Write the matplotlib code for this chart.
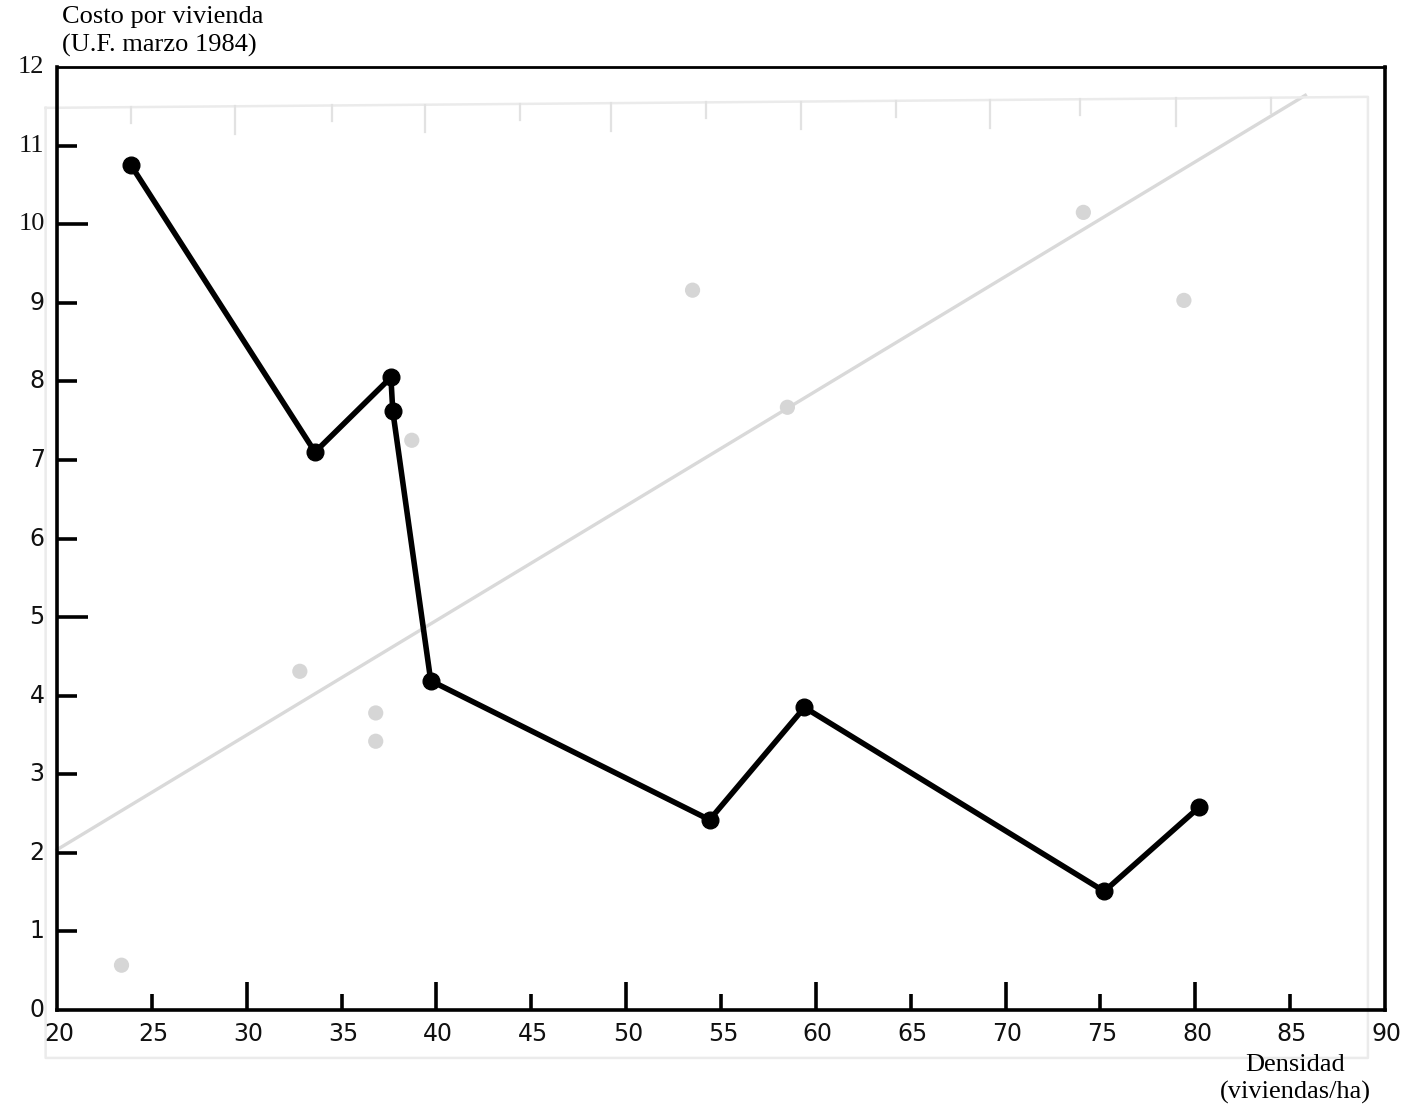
import matplotlib
matplotlib.use("Agg")
import matplotlib.pyplot as plt

# Cost per dwelling vs. density
densidad = [23.9, 33.6, 37.6, 37.7, 39.7, 54.4, 59.4, 75.2, 80.2]
costo = [10.75, 7.1, 8.05, 7.62, 4.19, 2.42, 3.85, 1.51, 2.58]

# faint show-through from the reverse page
fondo_x = [23.4, 32.8, 36.8, 36.8, 38.7, 53.5, 58.5, 74.1, 79.4]
fondo_y = [0.57, 4.31, 3.78, 3.42, 7.25, 9.16, 7.67, 10.15, 9.03]
fondo_recta_x = [20.0, 85.8]
fondo_recta_y = [2.04, 11.64]
fondo_marco_x = [19.4, 89.1, 89.1, 19.4, 19.4]
fondo_marco_y = [11.48, 11.62, -0.61, -0.61, 11.48]
fondo_ticks = [23.9, 29.4, 34.5, 39.4, 44.4, 49.2, 54.2, 59.2, 64.2, 69.2, 73.9, 79.0, 84.0]

x_ticks = list(range(20, 95, 5))
y_ticks = list(range(0, 13))

fig = plt.figure(figsize=(14.1, 11.12), dpi=100)
ax = fig.add_axes([57 / 1410, 1 - 1010 / 1112, 1328 / 1410, 943 / 1112])
ax.set_xlim(20, 90)
ax.set_ylim(0, 12)

gris = "#d9d9d9"
ax.plot(fondo_recta_x, fondo_recta_y, color=gris, lw=2.4, clip_on=False, zorder=1)
ax.plot(fondo_marco_x, fondo_marco_y, color="#ebebeb", lw=1.8, clip_on=False, zorder=1)
for i, t in enumerate(fondo_ticks):
    largo = 0.35 if i % 2 else 0.2
    top = 11.48 + (t - 19.4) / 69.7 * 0.14
    ax.plot([t, t], [top, top - largo], color="#e2e2e2", lw=1.6, clip_on=False, zorder=1)
ax.scatter(fondo_x, fondo_y, s=120, color="#d6d6d6", edgecolor="none", zorder=1, clip_on=False)

ax.plot(densidad, costo, color="black", lw=4.0, marker="o", markersize=12,
        solid_joinstyle="round", zorder=3)

for side in ["left", "bottom", "right"]:
    ax.spines[side].set_linewidth(2.6)
ax.spines["top"].set_linewidth(2.0)

# custom inward ticks: longer at the round values
ax.set_xticks([])
ax.set_yticks([])
for x in x_ticks:
    if 20 < x < 90:
        h = 0.36 if x % 10 == 0 else 0.2
        ax.plot([x, x], [0, h], color="black", lw=2.6, solid_capstyle="butt", zorder=2)
    ax.text(x + 0.1, -0.15, str(x), ha="center", va="top", fontsize=17,
            family="DejaVu Sans", color="#111111")
for y in y_ticks:
    if 0 < y < 12:
        w = 1.65 if y % 5 == 0 else 1.05
        ax.plot([20, 20 + w], [y, y], color="black", lw=2.6,
                solid_capstyle="butt", zorder=2)
    fam = "Liberation Serif" if y >= 10 else "DejaVu Sans"
    fs = 19 if y >= 10 else 17
    ax.text(19.35, y, str(y), ha="right", va="center", fontsize=fs, family=fam,
            color="#111111")

fig.text(62 / 1410, 1 - 17 / 1112, "Costo por vivienda", ha="left", va="center",
         fontsize=19, family="Liberation Serif")
fig.text(62 / 1410, 1 - 45 / 1112, "(U.F. marzo 1984)", ha="left", va="center",
         fontsize=19, family="Liberation Serif")
fig.text(1295 / 1410, 1 - 1065 / 1112, "Densidad", ha="center", va="center",
         fontsize=19, family="Liberation Serif")
fig.text(1295 / 1410, 1 - 1092 / 1112, "(viviendas/ha)", ha="center", va="center",
         fontsize=19, family="Liberation Serif")

fig.savefig("out.png", dpi=100)
